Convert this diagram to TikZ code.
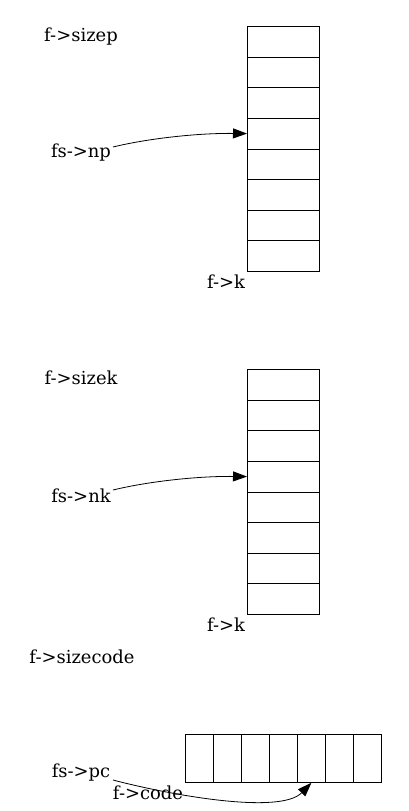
\documentclass[tikz,border=0pt]{standalone}
\usepackage{fontspec}
\setmainfont{DejaVu Serif}
\usetikzlibrary{arrows.meta}
\begin{document}
\begin{tikzpicture}[x=1bp,y=-1bp,
  lbl/.style={inner sep=0pt,font=\fontsize{18}{20}\selectfont},
  cell/.style={draw,line width=0.8bp,minimum width=72bp,minimum height=30.625bp,inner sep=0pt,anchor=north west},
  hcell/.style={draw,line width=0.8bp,minimum width=28bp,minimum height=48bp,inner sep=0pt,anchor=north west},
  ptr/.style={-{Triangle[length=14bp,width=10bp]},line width=0.8bp}]
\useasboundingbox (0,0) rectangle (408,811);
% top array
\foreach \i in {0,...,7}{
  \node[cell] (p\i) at (247,{26+\i*30.625}) {};
}
\node[lbl] (sizep) at (81,37) {f->sizep};
\node[lbl] (np) at (81,153) {fs->np};
\node[lbl] (k1) at (226,282) {f->k};
\draw[ptr] (113,147) .. controls (150,138) and (200,133) .. (p3.west);
% second array
\foreach \i in {0,...,7}{
  \node[cell] (q\i) at (247,{369+\i*30.625}) {};
}
\node[lbl] (sizek) at (81,378) {f->sizek};
\node[lbl] (nk) at (81,496) {fs->nk};
\node[lbl] (k2) at (226,625) {f->k};
\draw[ptr] (113,490) .. controls (150,481) and (200,476) .. (q3.west);
% code array
\foreach \i in {0,...,6}{
  \node[hcell] (c\i) at ({185+\i*28},734) {};
}
\node[lbl] (sizecode) at (82,657) {f->sizecode};
\node[lbl] (pc) at (81,773) {fs->pc};
\node[lbl] (code) at (148,793) {f->code};
\draw[ptr] (113,780) .. controls (170,795) and (280,815) .. (c4.south);
\end{tikzpicture}
\end{document}
